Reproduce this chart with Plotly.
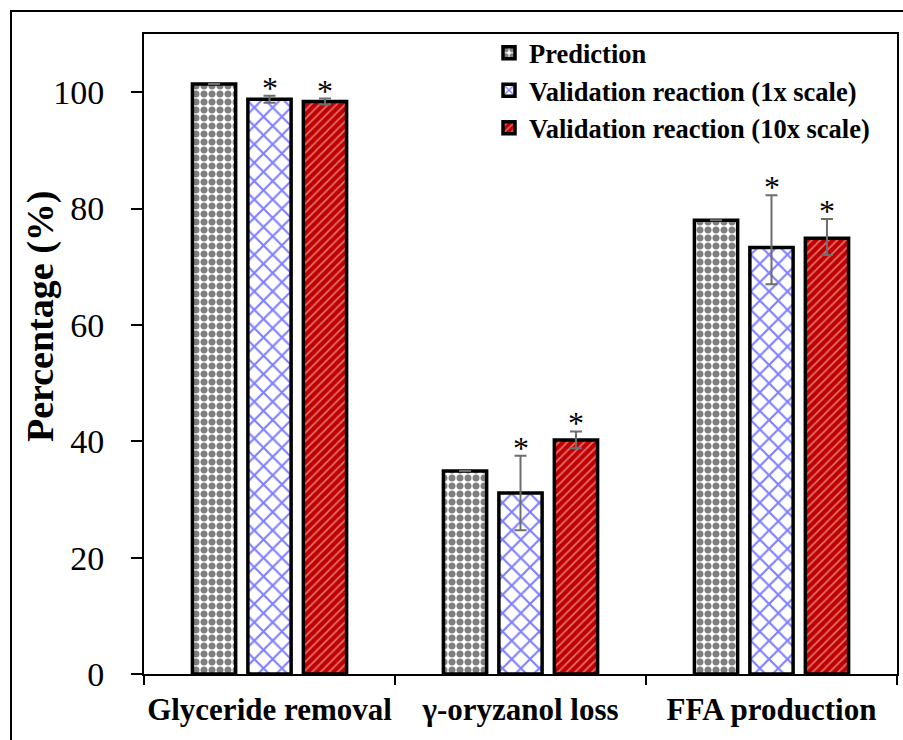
import plotly.graph_objects as go

# ---------------- data ----------------
categories = ["Glyceride removal", "γ-oryzanol loss", "FFA production"]
series_names = ["Prediction", "Validation reaction (1x scale)", "Validation reaction (10x scale)"]
prediction = [101.4, 34.9, 78.0]
val_1x = [98.8, 31.1, 73.3]
val_10x = [98.4, 40.2, 74.9]
pred_err = [0, 0, 0]
val_1x_err_plus = [0.6, 6.4, 9.0]
val_1x_err_minus = [0.6, 6.4, 6.3]
val_10x_err_plus = [0.5, 1.5, 3.3]
val_10x_err_minus = [0.5, 1.4, 2.9]
y_ticks = [0, 20, 40, 60, 80, 100]
y_range = [0, 110]
y_title = "Percentage (%)"

# ---------------- layout constants ----------------
W, H = 903, 740
ML, MR, MT, MB = 144, 6, 34, 66
PW, PH = W - ML - MR, H - MT - MB
BARGAP, BARGROUPGAP = 0.337, 0.22
FONT = "Liberation Serif"

def px_x(p):
    return (p - ML) / PW

def px_y(p):
    return (H - MB - p) / PH

err_style = dict(type="data", symmetric=False, color="#6e6e6e", thickness=2, width=6)

fig = go.Figure()
fig.add_trace(go.Bar(
    name=series_names[0], x=categories, y=prediction,
    marker=dict(color="white", line=dict(color="black", width=3.5),
                pattern=dict(shape=".", fgcolor="black", bgcolor="white", size=8, solidity=0.6)),
    error_y=dict(array=pred_err, arrayminus=pred_err, **err_style),
))
fig.add_trace(go.Bar(
    name=series_names[1], x=categories, y=val_1x,
    marker=dict(color="white", line=dict(color="black", width=3.5),
                pattern=dict(shape="x", fgcolor="#0000ff", bgcolor="white", size=13, solidity=0.3)),
    error_y=dict(array=val_1x_err_plus, arrayminus=val_1x_err_minus, **err_style),
))
fig.add_trace(go.Bar(
    name=series_names[2], x=categories, y=val_10x,
    marker=dict(color="#C00000", line=dict(color="black", width=3.5),
                pattern=dict(shape="/", fgcolor="#ffe0e0", bgcolor="#C00000", size=6, solidity=0.3)),
    error_y=dict(array=val_10x_err_plus, arrayminus=val_10x_err_minus, **err_style),
))

# asterisks above validation bars
slot_px = PW / len(categories) * (1 - BARGAP) / 3
annotations = []
for k, (vals, errs) in enumerate([(val_1x, val_1x_err_plus), (val_10x, val_10x_err_plus)]):
    for i, c in enumerate(categories):
        annotations.append(dict(
            x=c, y=vals[i] + errs[i], xref="x", yref="y", text="*", showarrow=False,
            xshift=(k) * slot_px, yanchor="bottom", yshift=-12,
            font=dict(family=FONT, size=32, color="black"),
        ))

# y axis title as annotation
annotations.append(dict(
    x=px_x(40), y=px_y(317), xref="paper", yref="paper", text=y_title, textangle=-90,
    showarrow=False, xanchor="center", yanchor="middle",
    font=dict(family=FONT, size=38, color="black", weight="bold"),
))

fig.update_layout(
    width=W, height=H,
    margin=dict(l=ML, r=MR, t=MT, b=MB, pad=0, autoexpand=False),
    paper_bgcolor="white", plot_bgcolor="white",
    barmode="group", bargap=BARGAP, bargroupgap=BARGROUPGAP,
    font=dict(family=FONT, color="black"),
    showlegend=True,
    legend=dict(x=px_x(489), y=px_y(29), xanchor="left", yanchor="top",
                bgcolor="rgba(0,0,0,0)", borderwidth=0,
                font=dict(family=FONT, size=26.5, color="black", weight="bold"),
                tracegroupgap=0),
    annotations=annotations,
    shapes=[dict(type="rect", xref="paper", yref="paper",
                 x0=px_x(11), y0=px_y(H + 20), x1=px_x(W + 20), y1=px_y(11),
                 line=dict(color="black", width=2), fillcolor="rgba(0,0,0,0)", layer="above")],
)
fig.update_xaxes(
    type="category", range=[-0.5, len(categories) - 0.5], automargin=False,
    showline=True, linecolor="black", linewidth=2, mirror=True,
    ticks="outside", tickson="boundaries", ticklen=9, tickwidth=2, tickcolor="black",
    tickangle=0, ticklabelstandoff=7,
    tickfont=dict(family=FONT, size=31, color="black", weight="bold"),
    showgrid=False, zeroline=False,
)
fig.update_yaxes(
    range=y_range, tickvals=y_ticks, automargin=False,
    showline=True, linecolor="black", linewidth=2, mirror=True,
    ticks="outside", ticklen=11, tickwidth=2, tickcolor="black", ticklabelstandoff=20,
    tickfont=dict(family=FONT, size=34, color="black"),
    showgrid=False, zeroline=False,
)

fig.write_html("out.html")
